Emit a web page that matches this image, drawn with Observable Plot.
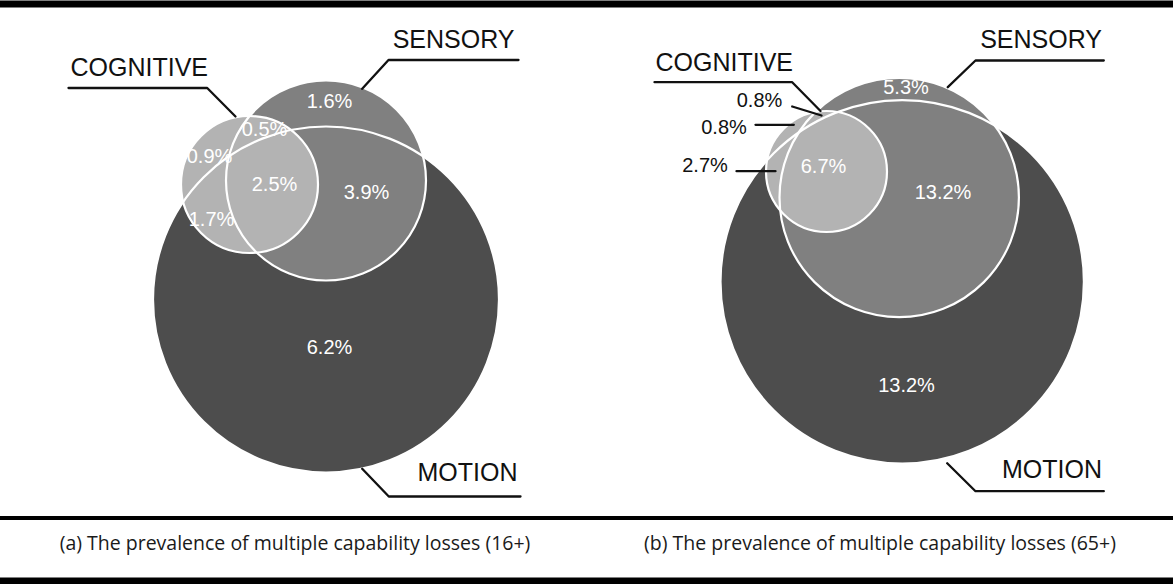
<!DOCTYPE html>
<html>
<head>
<meta charset="utf-8">
<script src="https://cdn.jsdelivr.net/npm/d3@7"></script>
<script src="https://cdn.jsdelivr.net/npm/@observablehq/plot@0.6"></script>
<style>
  html, body { margin: 0; padding: 0; background: #fff; }
  #chart svg { display: block; }
</style>
</head>
<body>
<div id="chart"></div>
<script>
// ---------------- data ----------------
const setNames = ["COGNITIVE", "SENSORY", "MOTION"];
const setKeys = ["C", "S", "M"];
const captions = [
  "(a) The prevalence of multiple capability losses (16+)",
  "(b) The prevalence of multiple capability losses (65+)"
];
// region keys: which capability losses the region combines
const regionsA = ["S", "CS", "C", "CSM", "SM", "CM", "M"];
const valuesA  = [1.6, 0.5, 0.9, 2.5, 3.9, 1.7, 6.2];
const regionsB = ["S", "CS", "C", "CSM", "SM", "CM", "M"];
const valuesB  = [5.3, 0.8, 0.8, 6.7, 13.2, 2.7, 13.2];

// ---------------- layout (pixel units of the drawing) ----------------
const W = 1173, H = 584;
const setFill = {C: "#b3b3b3", S: "#808080", M: "#4d4d4d"};
const circleLayout = {
  a: {M: [325.5, 299, 173], S: [325.5, 180, 100], C: [249, 184, 68.5]},
  b: {M: [901.7, 281.3, 181.7], S: [898.7, 197, 119.7], C: [826, 171, 60.5]}
};
// label anchor of each region: [x, baseline, inside (white) or outside (black)]
const regionPos = {
  a: {S: [329, 107, 1], CS: [264, 135, 1], C: [209, 162, 1], CSM: [274, 190, 1],
      SM: [366, 198, 1], CM: [211, 225, 1], M: [329, 353, 1]},
  b: {S: [905.5, 93, 1], CS: [759, 106, 0], C: [723.5, 133.5, 0], CSM: [823, 172, 1],
      SM: [942.5, 198, 1], CM: [704.5, 171, 0], M: [906, 391, 1]}
};
const regionLeaders = {
  b: {CS: [[791.7, 106], [821, 115]], C: [[755, 124.3], [793.3, 124.3]], CM: [[736, 170.7], [775, 170.7]]}
};
// set-name labels: [x, baseline, anchor], leader polyline
const setLabelPos = {
  a: {C: [70, 75, "start"], S: [514, 47, "end"], M: [517, 480, "end"]},
  b: {C: [655, 70, "start"], S: [1101.5, 47, "end"], M: [1101.5, 477, "end"]}
};
const setLeaders = {
  a: {C: [[68, 87.5], [206.7, 87.5], [235, 116]],
      S: [[518, 59.5], [388, 59.5], [361.7, 88.3]],
      M: [[520, 496], [388.3, 496], [361.7, 468.3]]},
  b: {C: [[654, 81.7], [791.7, 81.7], [820, 110.5]],
      S: [[1103.3, 60], [975, 60], [947.3, 86.7]],
      M: [[1103.3, 490.7], [975, 490.7], [946.7, 462.7]]}
};
const captionPos = [[294.5, 549], [879.5, 549]];
const rules = [{y: 3.5, w: 7}, {y: 517.5, w: 4}, {y: 580.5, w: 7}];

// ---------------- build tables ----------------
const panels = [
  {id: "a", regions: regionsA, values: valuesA},
  {id: "b", regions: regionsB, values: valuesB}
];
const circles = [];
const regionLabels = [];
const leaderPts = [];
const setLabels = [];
panels.forEach((p, pi) => {
  ["M", "S", "C"].forEach(k => {
    const [cx, cy, r] = circleLayout[p.id][k];
    circles.push({panel: p.id, set: k, cx, cy, r, fill: setFill[k]});
  });
  p.regions.forEach((reg, i) => {
    const [x, y, inside] = regionPos[p.id][reg];
    regionLabels.push({x, y, inside, text: p.values[i].toFixed(1) + "%"});
    const L = regionLeaders[p.id] && regionLeaders[p.id][reg];
    if (L) L.forEach(([x, y]) => leaderPts.push({id: p.id + reg + "r", x, y}));
  });
  setKeys.forEach((k, i) => {
    const [x, y, anchor] = setLabelPos[p.id][k];
    setLabels.push({x, y, anchor, text: setNames[i]});
    setLeaders[p.id][k].forEach(([x, y]) => leaderPts.push({id: p.id + k, x, y}));
  });
});
const captionRows = captions.map((t, i) => ({x: captionPos[i][0], y: captionPos[i][1], text: t}));

const LAB = "Liberation Sans, Arial, sans-serif";
const chart = Plot.plot({
  width: W, height: H, margin: 0,
  x: {domain: [0, W], range: [0, W], axis: null},
  y: {domain: [0, H], range: [0, H], axis: null},
  r: {type: "linear", domain: [0, 200], range: [0, 200]},
  marks: [
    // fills, painted motion -> sensory -> cognitive
    ...["M", "S", "C"].map(k => Plot.dot(circles.filter(d => d.set === k),
      {x: "cx", y: "cy", r: "r", fill: setFill[k], stroke: null, sort: null})),
    // white outlines
    Plot.dot(circles, {x: "cx", y: "cy", r: "r", fill: "none", stroke: "white", strokeWidth: 2.2, sort: null}),
    // region values
    Plot.text(regionLabels.filter(d => d.inside), {x: "x", y: "y", text: "text", fill: "white",
      fontSize: 20, fontFamily: LAB, lineAnchor: "bottom", textAnchor: "middle"}),
    Plot.text(regionLabels.filter(d => !d.inside), {x: "x", y: "y", text: "text", fill: "#111",
      fontSize: 20, fontFamily: LAB, lineAnchor: "bottom", textAnchor: "middle"}),
    // leaders
    Plot.line(leaderPts, {x: "x", y: "y", z: "id", stroke: "#111", strokeWidth: 2.3, curve: "linear"}),
    // set names
    Plot.text(setLabels.filter(d => d.anchor === "start"), {x: "x", y: "y", text: "text", fill: "#111",
      fontSize: 25, fontFamily: LAB, lineAnchor: "bottom", textAnchor: "start"}),
    Plot.text(setLabels.filter(d => d.anchor === "end"), {x: "x", y: "y", text: "text", fill: "#111",
      fontSize: 25, fontFamily: LAB, lineAnchor: "bottom", textAnchor: "end"}),
    // rules
    ...rules.map(r => Plot.ruleY([r.y], {stroke: "#000", strokeWidth: r.w})),
    // captions
    Plot.text(captionRows, {x: "x", y: "y", text: "text", fill: "#1a1a1a",
      fontSize: 19.5, fontFamily: "Open Sans, Noto Sans, sans-serif", lineAnchor: "bottom", textAnchor: "middle"})
  ]
});
document.getElementById("chart").appendChild(chart);
</script>
</body>
</html>
